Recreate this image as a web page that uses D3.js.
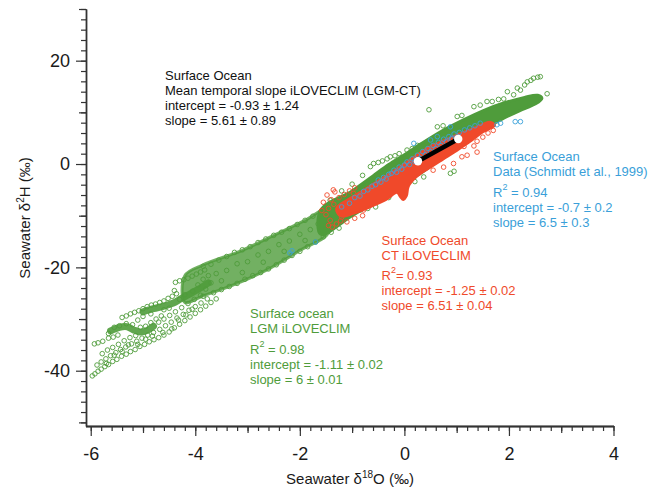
<!DOCTYPE html>
<html>
<head>
<meta charset="utf-8">
<script src="https://cdn.jsdelivr.net/npm/d3@7"></script>
<style>
  body { margin: 0; background: #fff; }
  svg { display: block; font-family: "Liberation Sans", Arial, Helvetica, sans-serif; }
</style>
</head>
<body>
<svg id="chart" width="652" height="491"></svg>
<script>
var xTicks = [-6, -4, -2, 0, 2, 4];
var yTicks = [-40, -20, 0, 20];

// LGM iLOVECLIM surface ocean (green)
// outline of the solid part of the cloud
var lgmCore = [
  [-1.6, -8.9], [-1.0, -5.2], [-0.6, -2.3], [-0.3, -0.1], [0.0, 1.8], [0.3, 3.8],
  [0.7, 6.3], [1.1, 8.4], [1.5, 10.3], [1.9, 11.8], [2.3, 12.9], [2.55, 13.3],
  [2.63, 12.7], [2.5, 11.6], [2.2, 10.3], [1.85, 8.6], [1.33, 5.7], [1.0, 3.6],
  [0.69, 1.0], [0.31, -1.8], [-0.14, -4.5], [-0.6, -7.4], [-1.0, -10.0], [-1.6, -13.6]
];
// outline of the denser middle part
var lgmHaze = [
  [-4.2, -21.6], [-3.87, -19.6], [-3.1, -16.7], [-2.5, -13.8], [-1.9, -10.9], [-1.45, -8.6],
  [-1.45, -13.3], [-1.99, -16.7], [-2.63, -20.5], [-3.27, -23.4], [-3.87, -25.6], [-4.2, -26.8]
];
// packed streaks in the lower left
var lgmStreaks = [
  [[-5.62, -32.3], [-5.45, -31.6], [-5.3, -31.5], [-5.18, -32.1], [-5.05, -32.5], [-4.92, -32.2], [-4.8, -31.4]],
  [[-5.0, -28.6], [-4.8, -28.0], [-4.6, -27.5], [-4.42, -26.9], [-4.28, -26.1], [-4.15, -25.4], [-3.95, -24.3], [-3.75, -23.0]]
];
var lgmPoints = [
  // bottom edge of the wedge
  [-5.97, -41.0], [-5.92, -40.6], [-5.86, -40.1], [-5.8, -39.7], [-5.73, -39.2], [-5.66, -38.8],
  [-5.58, -38.2], [-5.5, -37.8], [-5.41, -37.2], [-5.32, -36.8], [-5.24, -36.3], [-5.15, -35.9],
  [-5.06, -35.3], [-4.97, -34.9], [-4.88, -34.4], [-4.79, -34.0], [-4.7, -33.6], [-4.6, -33.1],
  [-4.5, -32.5], [-4.4, -31.7], [-4.3, -31.0], [-4.2, -30.3], [-4.1, -29.6], [-4.0, -28.9],
  [-3.9, -28.2], [-3.8, -27.5], [-3.7, -26.8], [-3.6, -26.1],
  [-5.88, -38.9], [-5.8, -38.3], [-5.71, -37.7], [-5.62, -37.1], [-5.52, -36.5], [-5.43, -35.9],
  [-5.33, -35.4], [-5.22, -34.8], [-5.12, -34.3], [-5.02, -33.7], [-4.91, -33.1], [-4.8, -32.6],
  [-4.68, -32.0], [-4.57, -31.3], [-4.46, -30.6], [-4.35, -29.8], [-4.23, -29.1], [-4.12, -28.3],
  [-4.0, -27.6], [-3.89, -26.9], [-3.77, -26.1],
  [-5.78, -36.7], [-5.68, -36.0], [-5.58, -35.5], [-5.47, -34.9], [-5.36, -34.2], [-5.25, -33.6],
  [-5.14, -33.2], [-4.7, -30.6], [-4.6, -30.0], [-4.49, -29.3], [-4.38, -28.6], [-4.26, -27.8],
  [-4.14, -27.0], [-4.02, -26.2], [-3.9, -25.4],
  [-5.93, -34.8], [-5.86, -34.6], [-5.77, -34.3], [-5.66, -33.7], [-5.57, -33.5], [-5.48, -33.1],
  [-5.66, -32.8], [-5.55, -31.6], [-5.45, -31.3], [-5.32, -30.9], [-5.2, -31.1], [-5.05, -31.6],
  [-4.95, -31.4], [-4.85, -30.7], [-4.75, -30.0], [-4.65, -29.4],
  [-5.7, -38.6], [-5.55, -37.0], [-5.4, -36.3], [-5.28, -35.0], [-5.1, -34.9], [-4.95, -33.9],
  [-4.82, -33.3], [-4.62, -32.6], [-4.45, -31.9], [-4.32, -30.2], [-4.18, -29.2], [-4.06, -28.1],
  // upper rows
  [-5.4, -29.7], [-5.32, -29.4], [-5.24, -29.0], [-5.16, -28.7], [-5.08, -28.4], [-5.0, -28.0],
  [-4.92, -27.6], [-4.84, -27.3], [-4.76, -27.1], [-4.68, -26.8], [-4.6, -26.5], [-4.52, -26.0],
  [-4.44, -25.6], [-4.36, -25.1],
  [-4.38, -22.9], [-4.3, -22.6], [-4.22, -22.4], [-4.14, -22.1], [-4.06, -21.7], [-3.98, -21.3],
  [-3.9, -20.9], [-3.82, -20.5],
  [-4.5, -27.9], [-4.3, -26.2], [-4.2, -25.3], [-4.05, -24.6], [-3.95, -23.4], [-4.4, -24.5],
  [-4.6, -28.2], [-5.1, -30.2], [-5.0, -29.5], [-4.85, -29.0], [-3.85, -22.3], [-3.75, -21.6],
  [-3.8, -24.2], [-3.7, -23.0],
  // edges of the middle part
  [-3.85, -19.8], [-3.7, -19.4], [-3.55, -18.6], [-3.4, -17.9], [-3.25, -17.1], [-3.1, -16.6],
  [-2.95, -16.0], [-2.8, -15.2], [-2.65, -14.5], [-2.5, -13.8], [-2.35, -13.2], [-2.2, -12.5],
  [-2.05, -11.7], [-1.9, -10.9], [-1.75, -10.1], [-1.6, -9.3], [-1.45, -8.5],
  [-3.85, -25.6], [-3.65, -24.9], [-3.5, -24.3], [-3.35, -23.7], [-3.2, -23.1], [-3.05, -22.3],
  [-2.9, -21.6], [-2.75, -21.0], [-2.6, -20.3], [-2.45, -19.5], [-2.3, -18.6], [-2.15, -17.7],
  [-2.0, -16.9], [-1.85, -16.0], [-1.7, -15.1], [-1.55, -14.1], [-1.4, -13.2], [-1.25, -12.4],
  // inside the middle part
  [-3.6, -21.2], [-3.4, -20.6], [-3.2, -19.3], [-3.0, -18.9], [-2.8, -17.6], [-2.6, -16.9],
  [-2.4, -15.6], [-2.2, -14.9], [-2.0, -13.6], [-1.8, -12.7], [-3.5, -22.6], [-3.1, -21.0],
  [-2.7, -19.0], [-2.3, -16.9], [-1.9, -14.8], [-1.65, -11.6],
  // above the core
  [-1.42, -7.0], [-1.2, -5.2], [-1.0, -3.9], [-0.8, -2.2], [-0.65, -0.5], [-0.59, 0.1],
  [-0.5, 0.3], [-0.42, 0.6], [-0.33, 1.0], [-0.27, 1.4], [-0.18, 1.6], [-0.1, 2.0],
  [0.05, 2.7], [0.15, 3.0], [0.25, 3.6], [0.63, 7.2], [0.74, 7.4], [0.47, 10.5],
  [1.01, 9.2], [1.1, 9.4], [1.33, 11.1], [1.45, 11.4], [1.58, 12.1], [1.68, 12.1],
  [1.8, 12.5], [1.9, 12.6], [1.97, 14.0], [2.09, 13.4], [2.16, 14.7], [2.22, 14.3],
  [2.3, 15.3], [2.35, 15.9], [2.42, 16.2], [2.47, 16.6], [2.55, 16.8], [2.6, 16.9], [2.73, 13.6],
  // below the core
  [0.88, -1.8], [0.95, -1.4], [0.37, -2.5], [0.2, -3.4], [-0.84, -8.9], [-0.7, -8.6],
  [-0.3, -6.5], [-0.55, -8.3]
];

// CT iLOVECLIM surface ocean (red)
var ctCore = [
  [-1.3, -8.6], [-1.1, -7.0], [-0.9, -5.8], [-0.6, -3.9], [-0.3, -2.0], [0.0, 0.0],
  [0.25, 1.8], [0.5, 3.4], [0.75, 4.5], [1.0, 5.6], [1.25, 6.6], [1.5, 7.7], [1.65, 8.1],
  [1.73, 7.5], [1.5, 6.2], [1.25, 4.3], [1.0, 2.6], [0.75, 1.0], [0.5, -0.6], [0.25, -2.3],
  [0.08, -4.3], [0.04, -6.2], [-0.02, -6.9], [-0.08, -6.3], [-0.14, -5.5], [-0.35, -6.9],
  [-0.65, -8.3], [-0.95, -9.5], [-1.22, -10.1]
];
var ctPoints = [
  [-1.45, -11.9], [-1.38, -12.2], [-1.3, -11.6], [-1.22, -11.0], [-1.42, -10.9], [-1.5, -9.8],
  [-1.58, -9.0], [-1.45, -8.6], [-1.35, -7.8], [-1.55, -7.4], [-1.4, -6.9], [-1.25, -6.5],
  [-1.48, -6.0], [-1.33, -5.4], [-1.15, -5.9], [-1.05, -5.2], [-0.95, -4.6], [-1.2, -10.3],
  [-1.1, -11.2], [-0.95, -10.5], [-0.8, -10.0], [-1.36, -5.0], [-0.97, -5.7], [-0.78, -8.9],
  [0.94, 0.1], [1.2, 1.7], [1.39, 2.3], [1.1, 1.4], [1.14, 3.4], [1.33, 3.5], [1.39, 4.4],
  [1.6, 6.0], [1.7, 6.5], [1.5, 5.2], [0.55, -1.2], [0.75, -0.6]
];

// Schmidt et al. (1999) surface ocean data (blue)
var dataPoints = [
  [-1.2, -8.3], [-1.05, -7.6], [-0.95, -6.5], [-0.85, -6.2], [-0.78, -5.3], [-0.7, -5.0],
  [-0.62, -4.3], [-0.55, -4.0], [-0.5, -3.1], [-0.45, -3.5], [-0.4, -2.6], [-0.35, -2.9],
  [-0.3, -2.0], [-0.25, -1.8], [-0.2, -1.2], [-0.15, -1.6], [-0.1, -0.6], [-0.05, -1.0],
  [0.0, -0.2], [0.05, 0.4], [0.1, -0.1], [0.15, 1.0], [0.2, 0.5], [0.25, 1.7], [0.3, 1.1],
  [0.35, 2.4], [0.4, 1.8], [0.45, 3.0], [0.5, 2.4], [0.55, 3.6], [0.6, 3.0], [0.65, 4.2],
  [0.7, 3.6], [0.75, 4.8], [0.8, 4.3], [0.85, 5.3], [0.9, 4.9], [0.95, 5.8], [1.05, 6.1],
  [1.15, 6.6], [1.25, 7.0], [1.35, 7.4], [1.45, 7.9], [0.18, 4.0], [0.5, 4.65], [0.63, 5.3],
  [0.88, 7.2], [1.77, 7.6], [1.84, 7.9], [2.12, 8.2], [2.22, 8.2],
  [-1.70, -15.1], [-2.19, -17.2], [-2.15, -16.8]
];

// mean temporal slope LGM-CT
var meanSlope = [[0.26, 0.53], [1.03, 4.85]];

var notes = [
  {color: '#111', x: 165, y: 80, lines: ['Surface Ocean', 'Mean temporal slope iLOVECLIM (LGM-CT)',
    'intercept = -0.93 \u00b1 1.24', 'slope = 5.61 \u00b1 0.89']},
  {color: '#3a9fd9', x: 493, y: 161, lines: ['Surface Ocean', 'Data (Schmidt et al., 1999)',
    'R^2| = 0.94', 'intercept = -0.7 \u00b1 0.2', 'slope = 6.5 \u00b1 0.3']},
  {color: '#ef4a2b', x: 381.5, y: 244.5, lines: ['Surface Ocean', 'CT iLOVECLIM',
    'R^2|= 0.93', 'intercept = -1.25 \u00b1 0.02', 'slope = 6.51 \u00b1 0.04']},
  {color: '#4f9c3b', x: 250, y: 318, lines: ['Surface ocean', 'LGM iLOVECLIM',
    'R^2| = 0.98', 'intercept = -1.11 \u00b1 0.02', 'slope = 6 \u00b1 0.01']}
];

var green = '#4f9c3b', red = '#f0492a', blue = '#3aa1da';

var svg = d3.select('#chart');
var x = d3.scaleLinear().domain([-6.1, 4]).range([85.5, 613.5]);
var y = d3.scaleLinear().domain([-50.7, 30]).range([426, 9]);

// axes: minor, medium, major ticks
function axisX(values, size, withLabels) {
  var g = svg.append('g')
    .attr('transform', 'translate(0,426)')
    .call(d3.axisBottom(x)
      .tickValues(values)
      .tickSize(size)
      .tickSizeOuter(0)
      .tickPadding(11)
      .tickFormat(withLabels ? function(d) { return String(d); } : ''))
  ;
  return g;
}
function axisY(values, size, withLabels) {
  var g = svg.append('g')
    .attr('transform', 'translate(86,0)')
    .call(d3.axisLeft(y)
      .tickValues(values)
      .tickSize(size)
      .tickSizeOuter(0)
      .tickPadding(6)
      .tickFormat(withLabels ? function(d) { return String(d); } : ''))
  ;
  return g;
}

var axes = [
  axisX(d3.range(-6, 4.001, 0.2), 5, false),
  axisX([-5, -3, -1, 1, 3], 7, false),
  axisX(xTicks, 10, true),
  axisY(d3.range(-50, 30.001, 2), 5, false),
  axisY([-50, -30, -10, 10, 30], 7, false),
  axisY(yTicks, 10, true)
];
axes.forEach(function(g) {
  g.selectAll('.tick line').attr('stroke', '#333').attr('stroke-width', 1.2);
  g.select('.domain').attr('stroke', '#333').attr('stroke-width', 1.3);
  g.selectAll('text').attr('font-size', 18).attr('fill', '#1a1a1a')
    .attr('font-family', '"Liberation Sans", Arial, sans-serif');
});

// clouds
var plot = svg.append('g');
var area = d3.line()
  .x(function(d) { return x(d[0]); })
  .y(function(d) { return y(d[1]); })
  .curve(d3.curveCatmullRomClosed)
;
var path = d3.line()
  .x(function(d) { return x(d[0]); })
  .y(function(d) { return y(d[1]); })
  .curve(d3.curveCatmullRom)
;

function rings(data, color) {
  plot.append('g')
    .selectAll('circle')
    .data(data)
    .join('circle')
      .attr('cx', function(d) { return x(d[0]); })
      .attr('cy', function(d) { return y(d[1]); })
      .attr('r', 2.3)
      .attr('fill', 'none')
      .attr('stroke', color)
      .attr('stroke-width', 0.9)
  ;
}

plot.append('path')
  .datum(lgmHaze)
  .attr('d', area)
  .attr('fill', green)
  .attr('fill-opacity', 0.8)
  .attr('stroke', green)
  .attr('stroke-opacity', 0.8)
  .attr('stroke-width', 3)
;
plot.selectAll('.streak')
  .data(lgmStreaks)
  .join('path')
    .attr('class', 'streak')
    .attr('d', path)
    .attr('fill', 'none')
    .attr('stroke', green)
    .attr('stroke-opacity', 0.9)
    .attr('stroke-width', 7)
    .attr('stroke-linecap', 'round')
;
rings(lgmPoints, green);
plot.append('path')
  .datum(lgmCore)
  .attr('d', area)
  .attr('fill', green)
  .attr('stroke', green)
  .attr('stroke-width', 3)
  .attr('stroke-linejoin', 'round')
;

plot.append('path')
  .datum(ctCore)
  .attr('d', area)
  .attr('fill', red)
  .attr('stroke', red)
  .attr('stroke-width', 2.5)
  .attr('stroke-linejoin', 'round')
;
rings(ctPoints, red);
rings(dataPoints, blue);

// mean slope
plot.append('path')
  .datum(meanSlope)
  .attr('d', d3.line().x(function(d) { return x(d[0]); }).y(function(d) { return y(d[1]); }))
  .attr('stroke', '#000')
  .attr('stroke-width', 4.5)
;
plot.selectAll('.end')
  .data(meanSlope)
  .join('circle')
    .attr('class', 'end')
    .attr('cx', function(d) { return x(d[0]); })
    .attr('cy', function(d) { return y(d[1]); })
    .attr('r', 4.2)
    .attr('fill', '#fff')
;

// annotations, "^2|" marks a superscript
notes.forEach(function(n) {
  var yy = n.y;
  n.lines.forEach(function(line, i) {
    if (i > 0) yy += line.indexOf('^') >= 0 ? 20.5 : 15;
    var t = svg.append('text')
      .attr('x', n.x)
      .attr('y', yy)
      .attr('fill', n.color)
      .attr('font-size', 13)
    ;
    var m = line.match(/^(.*)\^(.*)\|(.*)$/);
    if (m) {
      t.append('tspan').text(m[1]);
      t.append('tspan').attr('dy', -7).attr('font-size', 9).text(m[2]);
      t.append('tspan').attr('dy', 7).text(m[3]);
    } else {
      t.text(line);
    }
  });
});

// axis titles
var xt = svg.append('text')
  .attr('x', 350)
  .attr('y', 484)
  .attr('text-anchor', 'middle')
  .attr('font-size', 15)
  .attr('fill', '#1a1a1a')
;
xt.append('tspan').text('Seawater \u03b4');
xt.append('tspan').attr('dy', -6).attr('font-size', 10).text('18');
xt.append('tspan').attr('dy', 6).text('O (\u2030)');

var yt = svg.append('text')
  .attr('transform', 'translate(30,218) rotate(-90)')
  .attr('text-anchor', 'middle')
  .attr('font-size', 15)
  .attr('fill', '#1a1a1a')
;
yt.append('tspan').text('Seawater \u03b4');
yt.append('tspan').attr('dy', -6).attr('font-size', 10).text('2');
yt.append('tspan').attr('dy', 6).text('H (\u2030)');
</script>
</body>
</html>
